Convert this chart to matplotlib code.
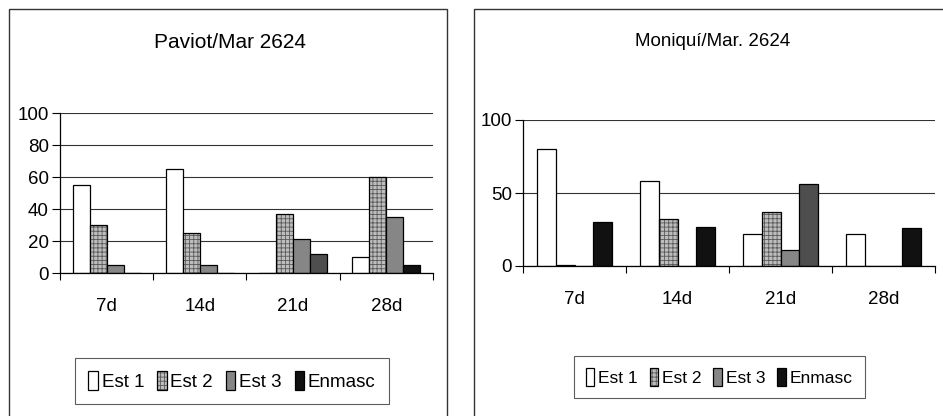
"""
plot.py — weekly stage percentages for two cultivars, side by side.

Writes out.png (943x416 px).
"""

import matplotlib
matplotlib.use("Agg")
import matplotlib.pyplot as plt
from matplotlib.patches import Rectangle
import numpy as np

plt.rcParams["font.family"] = ["Liberation Sans", "DejaVu Sans"]
plt.rcParams["hatch.linewidth"] = 0.6

CATEGORIES = ["7d", "14d", "21d", "28d"]
SERIES = ["Est 1", "Est 2", "Est 3", "Enmasc"]

PAVIOT_TITLE = "Paviot/Mar 2624"
PAVIOT_EST1 = [55, 65, 0, 10]
PAVIOT_EST2 = [30, 25, 37, 60]
PAVIOT_EST3 = [5, 5, 21, 35]
PAVIOT_ENMASC = [0, 0, 12, 5]
PAVIOT_YTICKS = [0, 20, 40, 60, 80, 100]

MONIQUI_TITLE = "Moniquí/Mar. 2624"
MONIQUI_EST1 = [80, 58, 22, 22]
MONIQUI_EST2 = [1, 32, 37, 0]
MONIQUI_EST3 = [0, 0, 11, 0]
MONIQUI_ENMASC = [30, 27, 56, 26]
MONIQUI_YTICKS = [0, 50, 100]

W, H = 943, 416

# facecolor, hatch per series
STYLES = [
    dict(facecolor="white", hatch=None),
    dict(facecolor="#bdbdbd", hatch="++++"),
    dict(facecolor="#868686", hatch=None),
    dict(facecolor="#111111", hatch=None),
]


def _px(x0, y0, x1, y1):
    """Pixel box (top-left origin) -> figure fraction [left, bottom, width, height]."""
    return [x0 / W, 1 - y1 / H, (x1 - x0) / W, (y1 - y0) / H]


def _panel(fig, box, values, yticks, title, title_xy, title_size,
           legend_xy, legend_size, border):
    ax = fig.add_axes(_px(*box))
    n = len(values)
    width = 1 / (n + 1.5)
    x = np.arange(len(CATEGORIES))
    containers = []
    for i, (vals, name, st) in enumerate(zip(values, SERIES, STYLES)):
        bars = ax.bar(x + (i - (n - 1) / 2) * width, vals, width,
                      label=name, facecolor=st["facecolor"], hatch=st["hatch"],
                      edgecolor="black", linewidth=0.9)
        containers.append(bars)
        for b in bars:
            b._hatch_color = (0.35, 0.35, 0.35, 1.0)
    # 21d masked bars came out as dark grey in the print
    containers[3][2].set_facecolor("#4e4e4e")

    ax.set_xlim(-0.5, len(CATEGORIES) - 0.5)
    ax.set_ylim(0, 100)
    ax.set_yticks(yticks)
    ax.set_xticks(np.arange(len(CATEGORIES) + 1) - 0.5)
    ax.set_xticklabels([])
    ax.set_xticks(x, minor=True)
    ax.set_xticklabels(CATEGORIES, minor=True)
    ax.tick_params(axis="x", which="major", direction="out", length=5, width=0.8)
    ax.tick_params(axis="x", which="minor", length=0, pad=18, labelsize=13.5)
    ax.tick_params(axis="y", direction="out", length=6, width=0.8, pad=2, labelsize=13.5)
    ax.yaxis.grid(True, color="#333333", lw=0.8)
    ax.set_axisbelow(True)
    for s in ("top", "right"):
        ax.spines[s].set_visible(False)
    for s in ("left", "bottom"):
        ax.spines[s].set_linewidth(0.9)

    fig.text(title_xy[0] / W, 1 - title_xy[1] / H, title,
             ha="center", va="center", fontsize=title_size)

    handles = [c.patches[0] for c in containers]
    leg = fig.legend(handles, SERIES, loc="center",
                     bbox_to_anchor=(legend_xy[0] / W, 1 - legend_xy[1] / H),
                     ncol=4, fontsize=legend_size, frameon=True, fancybox=False,
                     handlelength=0.5, handleheight=1.2, handletextpad=0.2,
                     columnspacing=0.7, borderpad=0.7)
    leg.get_frame().set_edgecolor("#333333")
    leg.get_frame().set_linewidth(0.8)

    bx0, by0, bx1, by1 = border
    fig.add_artist(Rectangle((bx0 / W, 1 - by1 / H), (bx1 - bx0) / W, (by1 - by0) / H,
                             transform=fig.transFigure, fill=False,
                             edgecolor="#333333", lw=1.0, clip_on=False))
    return ax


def main():
    fig = plt.figure(figsize=(W / 100, H / 100), dpi=100)
    fig.patch.set_facecolor("white")

    _panel(fig, (60, 113, 433, 273),
           [PAVIOT_EST1, PAVIOT_EST2, PAVIOT_EST3, PAVIOT_ENMASC],
           PAVIOT_YTICKS, PAVIOT_TITLE, (230, 42), 15,
           (232, 381), 13.5, (9, 9, 447, 420))
    _panel(fig, (523, 120, 935, 266),
           [MONIQUI_EST1, MONIQUI_EST2, MONIQUI_EST3, MONIQUI_ENMASC],
           MONIQUI_YTICKS, MONIQUI_TITLE, (713, 42), 13.5,
           (719, 377), 12.5, (474, 9, 950, 420))

    fig.savefig("out.png", dpi=100)
    plt.close(fig)


if __name__ == "__main__":
    main()
